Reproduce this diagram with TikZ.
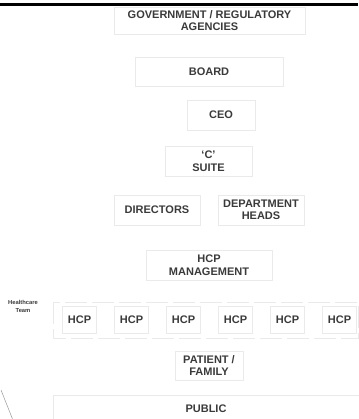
\documentclass[tikz,border=0pt]{standalone}
\usepackage{fontspec}
\setmainfont{Liberation Sans}
\definecolor{boxline}{HTML}{EAEAEA}
\definecolor{labeltext}{HTML}{3A3A3A}
\tikzset{
  orgbox/.style={draw=boxline,line width=0.7pt,align=center,inner sep=0pt,
    text=labeltext,font=\fontsize{11}{12.5}\selectfont\bfseries},
}
\begin{document}
\begin{tikzpicture}[x=1pt,y=-1pt]
		\useasboundingbox (0,0) rectangle (358,419);
		\draw[line width=2.2pt] (0,4.5) -- (358,4.5);
		\node[orgbox,minimum width=191pt,minimum height=27pt] (gov) at (209.5,20.5) {GOVERNMENT / REGULATORY\\AGENCIES};
		\node[orgbox,minimum width=148pt,minimum height=29pt] (board) at (209,71.5) {BOARD};
		\node[orgbox,minimum width=68pt,minimum height=30pt] (ceo) at (221,115) {CEO};
		\node[orgbox,minimum width=87pt,minimum height=30pt] (csuite) at (208.5,161) {`C'\\SUITE};
		\node[orgbox,minimum width=86pt,minimum height=30pt] (directors) at (157,210) {DIRECTORS};
		\node[orgbox,minimum width=86pt,minimum height=30pt] (depthead) at (261,210) {DEPARTMENT\\HEADS};
		\node[orgbox,minimum width=126pt,minimum height=30pt] (hcpmgmt) at (209,265) {HCP\\MANAGEMENT};
		\node[align=center,inner sep=0pt,text=labeltext,font=\fontsize{5.8}{7.5}\selectfont\bfseries] (team) at (23,306.5) {Healthcare\\Team};
		\draw[boxline,line width=0.7pt,dash pattern=on 22pt off 5pt] (53,302) rectangle (358,338);
		\foreach \i in {0,...,5}
		\node[orgbox,minimum width=34pt,minimum height=27pt] (hcp\i) at (79.5+52*\i,319.5) {HCP};
		\node[orgbox,minimum width=68pt,minimum height=29pt] (patient) at (209,365.5) {PATIENT /\\FAMILY};
		\node[orgbox,minimum width=306pt,minimum height=26pt] (public) at (206,408.5) {PUBLIC};
		\draw[gray!80,line width=0.5pt] (1,390) -- (12.5,419);
		\end{tikzpicture}
\end{document}
